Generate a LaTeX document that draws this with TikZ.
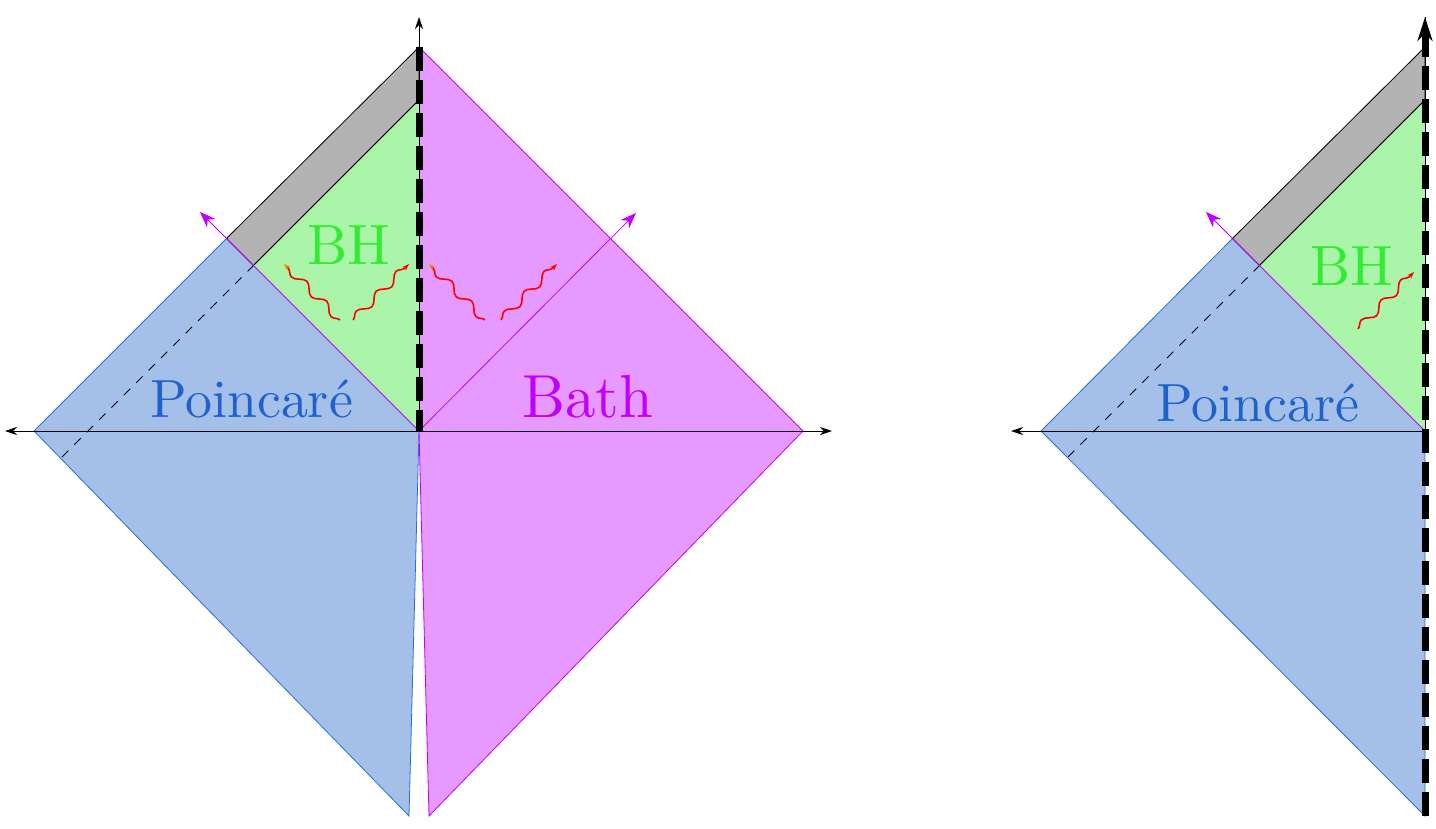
\documentclass[tikz,border=0pt]{standalone}
\usepackage{fontspec}
\setmainfont{lmroman10-regular.otf}
\usetikzlibrary{arrows.meta,decorations.pathmorphing}
\definecolor{pblue}{RGB}{164,192,232}
\definecolor{pbluetext}{RGB}{32,98,204}
\definecolor{pblueline}{RGB}{40,110,220}
\definecolor{bhgreen}{RGB}{170,245,170}
\definecolor{bhtext}{RGB}{50,236,50}
\definecolor{bathfill}{RGB}{230,153,255}
\definecolor{bathline}{RGB}{191,0,255}
\definecolor{greyband}{RGB}{179,179,179}
\tikzset{
  thinline/.style={line width=0.8bp},
  axis/.style={thinline, black, -{Stealth[length=12bp,width=8bp]}},
  magarrow/.style={thinline, bathline, -{Stealth[length=16bp,width=12bp]}},
  thickdash/.style={line width=7bp, dash pattern=on 24bp off 9bp},
  wavy/.style={red, line width=1.6bp, decorate, decoration={snake, amplitude=4bp, segment length=28bp, post length=5bp}},
  wavyR/.style={wavy, -{Stealth[length=7bp,width=5bp]}},
  wavyL/.style={wavy, -{Stealth[length=7bp,width=5bp,color=orange]}},
  biglabel/.style={anchor=base}
}
\begin{document}
\begin{tikzpicture}[x=1bp,y=-1bp]
\useasboundingbox (0,0) rectangle (1436,828);
% ---------- left diagram ----------
\coordinate (O) at (419,431);
\coordinate (T) at (419,47);
\coordinate (L) at (34,431);
\coordinate (R) at (803,431);
\coordinate (Bb) at (409,816);
\coordinate (Mb) at (429,816);
\coordinate (P1) at (226.5,238.5);
\coordinate (P2) at (253.5,265.5);
\coordinate (T2) at (419,100);
\coordinate (D) at (62,457);
\coordinate (AL) at (200,212);
\coordinate (AR) at (636,213);
\coordinate (XL) at (5,431);
\coordinate (XR) at (832,431);
\coordinate (YT) at (419,17);

\fill[pblue] (L)--(P1)--(O)--(Bb)--cycle;
\draw[thinline, pblueline] (P1)--(L)--(Bb)--(O);
\fill[bathfill] (T)--(R)--(Mb)--(O)--cycle;
\draw[thinline, bathline] (T)--(R)--(Mb)--(O);
\filldraw[thinline, fill=greyband, draw=black] (P1)--(T)--(T2)--(P2)--cycle;
\fill[bhgreen] (P2)--(T2)--(O)--cycle;
\draw[thinline, black] (T2)--(P2);
\draw[thinline, dash pattern=on 9bp off 8.5bp] (D)--(P2);
\draw[magarrow] (O)--(AL);
\draw[magarrow] (O)--(AR);
\draw[axis] (O)--(XL);
\draw[axis] (O)--(XR);
\draw[axis] (O)--(YT);
\draw[thickdash] (T)--(O);

\coordinate (w1s) at (340,320); \coordinate (w1e) at (284,264);
\coordinate (w2s) at (353,320); \coordinate (w2e) at (409,264);
\coordinate (w3s) at (485,320); \coordinate (w3e) at (429,264);
\coordinate (w4s) at (501,320); \coordinate (w4e) at (557,264);
\draw[wavyL] (w1s)--(w1e);
\draw[wavyR] (w2s)--(w2e);
\draw[wavyL] (w3s)--(w3e);
\draw[wavyR] (w4s)--(w4e);

\node[biglabel, bhtext, font=\fontsize{57}{60}\selectfont] (bh1) at (348.5,264) {BH};
\node[biglabel, pbluetext, font=\fontsize{54}{58}\selectfont] (pc1) at (251.5,417) {Poincaré};
\node[biglabel, bathline, font=\fontsize{61}{64}\selectfont] (bath) at (587.5,417) {Bath};

% ---------- right diagram ----------
\coordinate (O2) at (1425,431);
\coordinate (T3) at (1425,47);
\coordinate (L2) at (1041,431);
\coordinate (B2) at (1425,816);
\coordinate (Q1) at (1232.5,238.5);
\coordinate (Q2) at (1259.5,265.5);
\coordinate (T4) at (1425,100);
\coordinate (D2) at (1068,457);
\coordinate (AL2) at (1206,212);
\coordinate (XL2) at (1011,431);
\coordinate (YT2) at (1425,17);

\fill[pblue] (L2)--(Q1)--(O2)--(B2)--cycle;
\draw[thinline, pblueline] (Q1)--(L2)--(B2)--(O2);
\filldraw[thinline, fill=greyband, draw=black] (Q1)--(T3)--(T4)--(Q2)--cycle;
\fill[bhgreen] (Q2)--(T4)--(O2)--cycle;
\draw[thinline, black] (T4)--(Q2);
\draw[thinline, dash pattern=on 9bp off 8.5bp] (D2)--(Q2);
\draw[magarrow] (O2)--(AL2);
\draw[axis] (O2)--(XL2);
\draw[thinline, black] (O2)--(YT2);
\draw[thickdash, -{Stealth[length=24bp,width=15bp]}] (B2)--(YT2);

\coordinate (w5s) at (1358,329); \coordinate (w5e) at (1414,272);
\draw[wavyR] (w5s)--(w5e);

\node[biglabel, bhtext, font=\fontsize{57}{60}\selectfont] (bh2) at (1352,285) {BH};
\node[biglabel, pbluetext, font=\fontsize{54}{58}\selectfont] (pc2) at (1258,421) {Poincaré};
\end{tikzpicture}
\end{document}
